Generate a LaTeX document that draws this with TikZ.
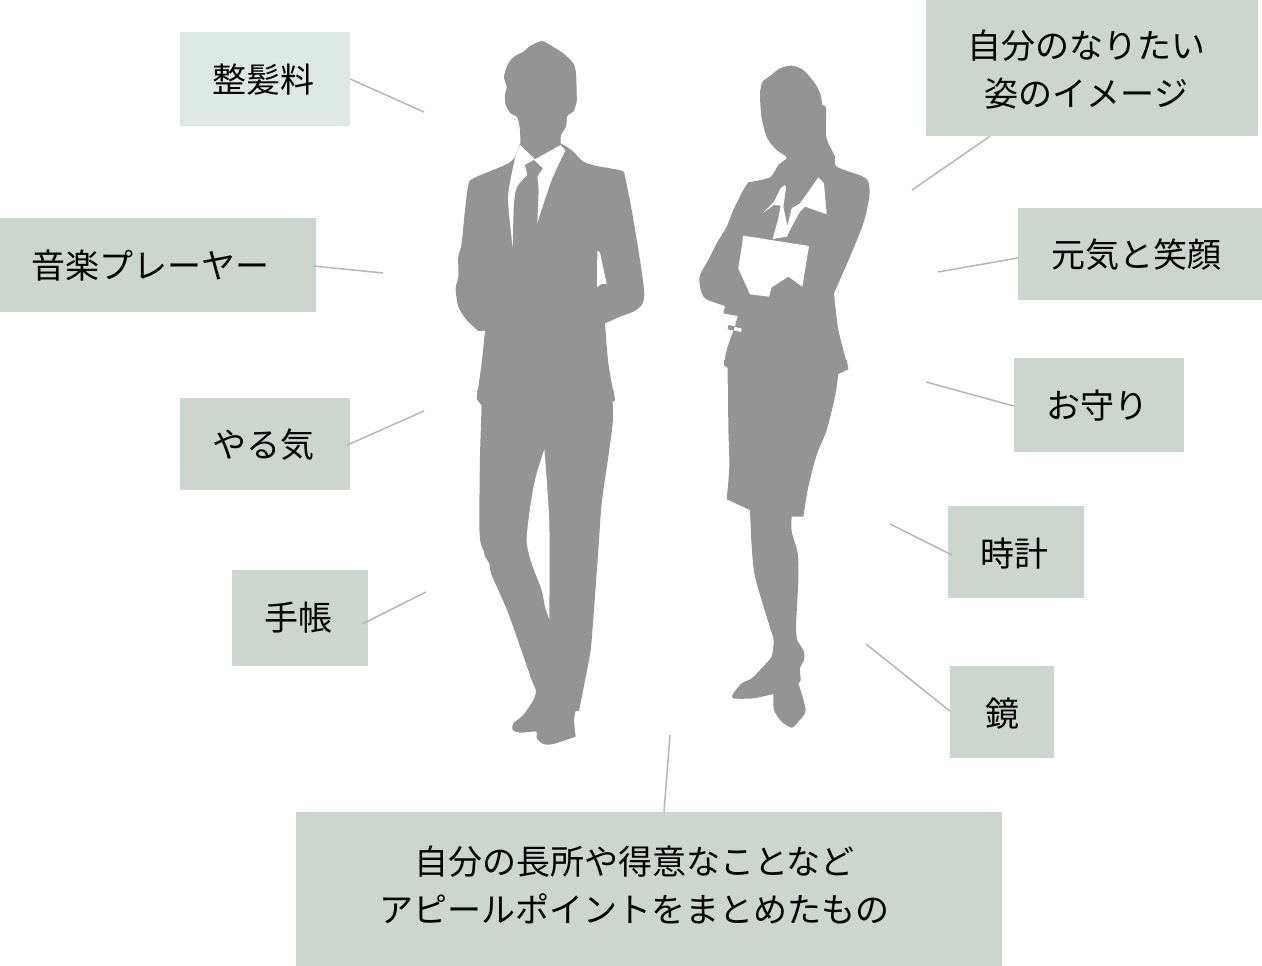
\documentclass[tikz,border=0pt]{standalone}
\usepackage{fontspec}
\setmainfont{Noto Sans CJK JP}
\newcommand{\Shifted}[3]{\raisebox{#2}[0pt][0pt]{\makebox[0pt]{\hspace*{#1}#3}}}
\newcommand{\TwoLines}[2]{\begin{tabular}{@{}c@{}}#1\\#2\end{tabular}}
\tikzset{
  tagbox/.style={fill=tagcol,inner sep=0pt,font=\fontsize{34}{48}\selectfont,text=black},
  lighttag/.style={tagbox,fill=tagpale},
  leader/.style={draw=leadcol,line width=1.5pt},
  sil/.style={fill=silcol},
  gap/.style={fill=white},
  sm/.style={smooth,tension=0.45}
}
\definecolor{tagcol}{HTML}{CDD5CF}
\definecolor{tagpale}{HTML}{DEE9E5}
\definecolor{leadcol}{HTML}{B6B6B3}
\definecolor{silcol}{HTML}{949494}
\begin{document}
\begin{tikzpicture}[x=1pt,y=-1pt]
\useasboundingbox (0,0) rectangle (1262,966);
% man, upper part
\begin{scope}[shift={(440,30)},x=0.33333pt,y=-0.33333pt]
\fill[sil] plot[sm] coordinates {(241,342)(240,300)(232,262)(212,250)(197,225)(195,195)(200,170)(192,140)(205,100)(225,78)(250,65)(270,48)(305,33)(330,45)(370,70)(400,100)(408,130)(410,190)(410,215)(400,245)(382,258)(378,290)(363,315)(362,342)}
 -- (362,400) -- (241,400) -- cycle;
\fill[sil] (362,340) -- plot[sm] coordinates {(380,350)(400,365)(430,395)(470,408)(545,422)(555,440)(575,540)(600,690)(613,790)(605,825)(580,845)(540,860)(495,880)}
 -- plot[sm] coordinates {(495,880)(505,1000)(525,1112)} -- (515,1112) -- (516,1140) -- (125,1140) -- (125,1125) -- (110,1105)
 -- plot[sm] coordinates {(110,1105)(125,1000)(135,903)} -- (115,903)
 -- plot[sm] coordinates {(115,903)(80,870)(55,830)(47,775)(55,740)(55,680)(65,640)(75,540)(85,465)(100,445)(195,405)(222,385)(240,340)} -- cycle;
% shirt
\fill[gap] (240,345) -- (285,388) -- (362,345) -- (376,362) -- plot[sm] coordinates {(376,362)(335,450)(292,578)} -- (218,652)
 -- plot[sm] coordinates {(218,652)(208,560)(205,490)(225,385)(240,345)} -- cycle;
% tie
\fill[sil] (255,405) -- (282,390) -- (308,415) -- (292,440) -- (296,480) -- (292,580) -- (218,655) -- plot[sm] coordinates {(218,655)(222,520)(232,470)(262,435)} -- cycle;
% pocket gap
\fill[gap] (472,662) -- (480,668) -- (500,762) -- (485,762) -- (471,771) -- cycle;
\end{scope}
% man, lower part
\begin{scope}[shift={(460,390)},x=0.33333pt,y=-0.33333pt]
\fill[sil] (52,0) -- (52,30) -- (65,45) -- plot[sm] coordinates {(65,45)(60,200)(58,400)(62,460)(72,485)(75,500)(88,520)(95,555)(145,670)(215,870)(228,900)(220,930)(190,975)(160,1000)(158,1020)(180,1028)(228,1025)(230,1045)(250,1062)(280,1062)(347,1040)}
 -- plot[sm] coordinates {(347,1040)(342,990)(347,963)} -- (357,963) -- plot[sm] coordinates {(357,963)(385,820)(395,750)(415,480)(425,340)(445,200)(458,100)(458,35)} -- (465,30) -- (460,0) -- cycle;
\fill[gap] (253,178) -- plot[sm] coordinates {(253,178)(225,270)(208,370)(200,455)(215,520)(245,600)(255,650)(268,688)} -- plot[sm] coordinates {(268,688)(268,400)(253,178)} -- cycle;
\end{scope}
% woman, upper part
\begin{scope}[shift={(690,50)},x=0.33333pt,y=-0.33333pt]
\fill[sil] plot[sm] coordinates {(175,397)(240,382)(265,345)(290,323)(260,300)(232,265)(215,205)(210,130)(218,95)(240,78)(270,55)(305,47)(340,60)(375,100)(392,135)(397,165)(408,175)(408,255)(420,290)(435,320)(440,350)(515,378)(535,395)(538,440)(520,520)(480,620)(432,730)}
 -- plot[sm] coordinates {(432,730)(445,840)(475,955)} -- (443,970) -- (430,1000) -- (113,1000) -- (113,950) -- (102,945) -- plot[sm] coordinates {(102,945)(110,900)(135,828)(143,798)} -- (100,790) -- (105,768)
 -- plot[sm] coordinates {(105,768)(45,745)(30,710)(30,675)(55,630)(80,580)(110,530)(130,480)(160,420)(175,397)} -- cycle;
% shirt, from the detail crop
\begin{scope}[shift={(180,345)}]
\fill[gap] (40,143)--(72,110)--(92,70)--(105,60)--(108,70)--(100,125)--(112,183)--(125,130)--(150,115)--(175,80)--(205,37)--(222,55)--(230,148)--(165,125)--(150,140)--(125,185)--(110,215)--(68,222)--(85,160)--(92,122)--(72,120)--cycle;
\end{scope}
% tablet
\fill[gap] (160,557) -- (357,588) -- (337,710) -- (295,680) -- (245,712) -- (237,740) -- (180,733) -- (145,655) -- cycle;
% pen
\fill[gap] (133,830) -- (155,836) -- (153,846) -- (131,841) -- cycle;
\fill[gap] (113,822) -- (136,826) -- (131,842) -- (120,842) -- cycle;
\fill[sil] (115,825) -- (134,829) -- (131,842) -- (113,838) -- cycle;
\end{scope}
% woman, lower part
\begin{scope}[shift={(710,360)},x=0.33333pt,y=-0.33333pt]
\fill[sil] (42,0) -- (42,15) -- (54,25) -- plot[sm] coordinates {(54,25)(55,200)(58,320)(50,418)} -- (120,450) -- plot[sm] coordinates {(120,450)(125,560)(135,650)(170,770)(190,835)(190,860)(183,893)(150,930)(125,955)(95,970)(70,1000)(70,1015)(130,1015)(190,1002)}
 -- plot[sm] coordinates {(190,1002)(192,1050)(215,1085)(245,1103)(265,1085)(287,1050)(265,970)} -- plot[sm] coordinates {(265,970)(272,960)(270,925)(282,900)(282,875)(262,842)}
 -- plot[sm] coordinates {(262,842)(258,800)(265,660)(263,580)(245,515)(245,470)} -- (280,470) -- plot[sm] coordinates {(280,470)(295,380)(320,285)(350,210)(375,110)(385,42)} -- (415,28) -- (410,0) -- cycle;
\end{scope}
% tags
\node[lighttag,minimum width=170pt,minimum height=94pt] (hair) at (265,79) {\Shifted{-4pt}{-13.5pt}{整髪料}};
\node[tagbox,minimum width=316pt,minimum height=94pt] (music) at (158,265) {\Shifted{-16pt}{-13.5pt}{音楽プレーヤー}};
\node[tagbox,minimum width=170pt,minimum height=92pt] (drive) at (265,444) {\Shifted{-4pt}{-13.5pt}{やる気}};
\node[tagbox,minimum width=136pt,minimum height=96pt] (planner) at (300,618) {\Shifted{-4pt}{-12pt}{手帳}};
\node[tagbox,minimum width=332pt,minimum height=136pt] (image) at (1092,68) {\Shifted{-11pt}{-11pt}{\TwoLines{自分のなりたい}{姿のイメージ}}};
\node[tagbox,minimum width=244pt,minimum height=92pt] (smile) at (1140,254) {\Shifted{-8pt}{-13.5pt}{元気と笑顔}};
\node[tagbox,minimum width=170pt,minimum height=94pt] (charm) at (1099,405) {\Shifted{-3pt}{-13pt}{お守り}};
\node[tagbox,minimum width=136pt,minimum height=92pt] (watch) at (1016,552) {\Shifted{-4pt}{-14pt}{時計}};
\node[tagbox,minimum width=104pt,minimum height=92pt] (mirror) at (1002,712) {\Shifted{0pt}{-14pt}{鏡}};
\node[tagbox,minimum width=706pt,minimum height=154pt] (appeal) at (649,889) {\Shifted{-29pt}{-6pt}{\TwoLines{自分の長所や得意なことなど}{アピールポイントをまとめたもの}}};
% free ends
\coordinate (hairEnd) at (424,112);
\coordinate (musicEnd) at (383,273);
\coordinate (driveEnd) at (424,411);
\coordinate (plannerEnd) at (426,592);
\coordinate (imageEnd) at (912,190);
\coordinate (smileEnd) at (938,272);
\coordinate (charmEnd) at (926,382);
\coordinate (watchEnd) at (890,524);
\coordinate (mirrorEnd) at (866,644);
\coordinate (appealEnd) at (670,735);
% leaders
\draw[leader] (hair.east) -- (hairEnd);
\draw[leader] ([shift={(-3,1)}]music.east) -- (musicEnd);
\draw[leader] ([shift={(-3,1)}]drive.east) -- (driveEnd);
\draw[leader] ([shift={(-6,6)}]planner.east) -- (plannerEnd);
\draw[leader] ([shift={(-102,0)}]image.south) -- (imageEnd);
\draw[leader] ([shift={(0,4)}]smile.west) -- (smileEnd);
\draw[leader] ([shift={(0,1)}]charm.west) -- (charmEnd);
\draw[leader] ([shift={(4,3)}]watch.west) -- (watchEnd);
\draw[leader] ([shift={(0,-1)}]mirror.west) -- (mirrorEnd);
\draw[leader] ([shift={(15,0)}]appeal.north) -- (appealEnd);
\end{tikzpicture}
\end{document}
